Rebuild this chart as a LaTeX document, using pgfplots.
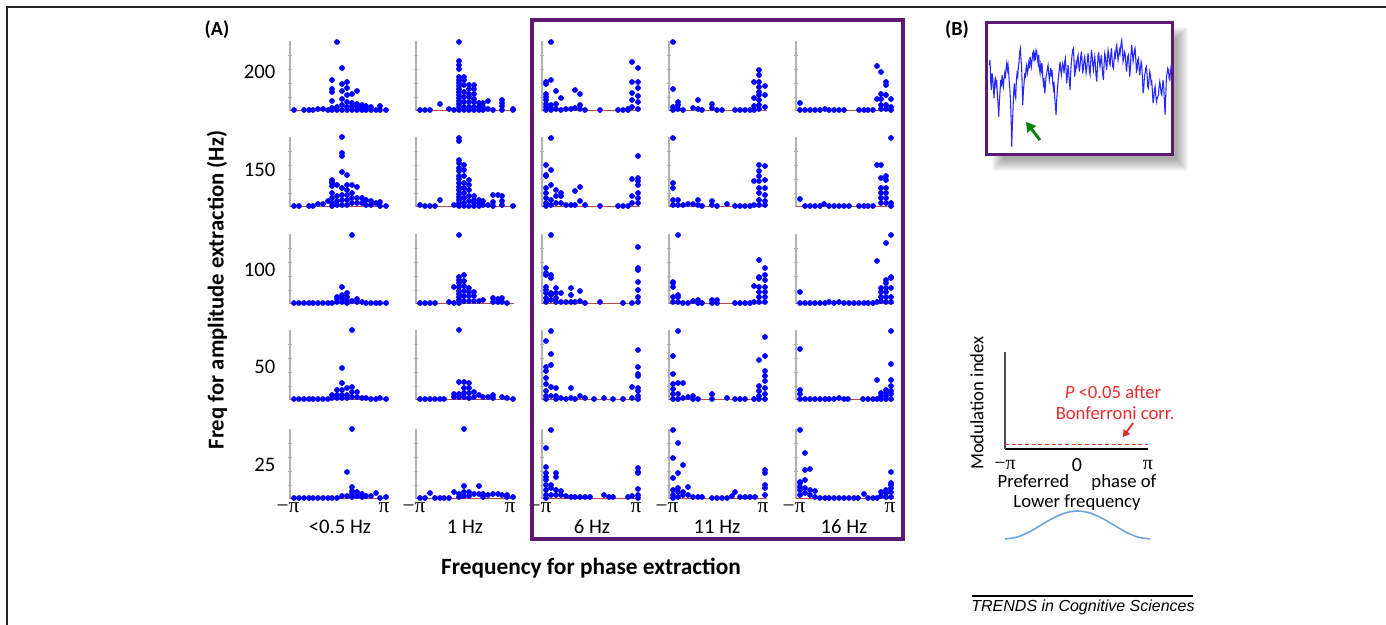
\documentclass[border=0pt]{standalone}
\usepackage{fontspec}
\setmainfont{Carlito}
\newfontfamily\serifpi{Liberation Serif}
\newfontfamily\trendsfont{Liberation Sans}
\usepackage{pgfplots}
\pgfplotsset{compat=1.18}
\usetikzlibrary{arrows.meta}
\definecolor{boxpurple}{RGB}{95,25,115}
\definecolor{thr}{RGB}{190,75,65}
\definecolor{cosblue}{RGB}{110,165,220}
\definecolor{annred}{RGB}{230,45,45}
\pgfplotsset{
  panel/.style={anchor=south west, scale only axis, width=75pt, height=52.5pt,
    xmin=0, xmax=100, ymin=0, ymax=70, clip=false,
    axis x line=none, axis y line=left, axis line style={-},
    y axis line style={gray!60, line width=0.8pt},
    ytick={14,28,42,56}, yticklabels={}, ytick style={gray!60, line width=0.5pt},
    major tick length=2.5pt, xtick=\empty},
  dots/.style={only marks, mark=*, mark size=1.9pt, color=blue, mark options={fill=blue, draw=blue}},
}
\newcommand{\panel}[3]{%
\begin{axis}[panel, at={({#1*0.75pt},{#2*0.75pt})}]
\addplot[thr, line width=1.3pt] coordinates {(0,0.4)(98,0.4)};
\addplot[dots] coordinates {#3};
\end{axis}}
\begin{document}
\begin{tikzpicture}
\begin{scope}[x=0.75pt, y=0.75pt]
\useasboundingbox (0,0) rectangle (1386,625);
\draw[line width=1.2pt, black!85] (7,0) -- (7,618) -- (1386,618);
\foreach \i in {0,...,11}{
  \fill[black, opacity=0.03] ({992+\i},{454+\i}) rectangle ({1188-\i},{598-\i});
}
\end{scope}

% ---------- row 1 (200) ----------
\panel{290}{514}{(4,1)(14,1)(19,1)(23,1)(28,2)(33,2)(38,1)(42,1)(47,1)(52,1)(57,1)(62,1)(67,1)(72,1)(76,1)(81,1)(86,1)(90,1)(96,1)
(42,31)(42,22)(42,19)(42,10)(42,3)(47,69)(47,4)(52,43)(52,27)(52,20)(52,12)(52,6)
(57,29)(57,23)(57,16)(57,9)(57,4)(62,17)(62,8)(62,5)(67,20)(67,7)(67,4)(72,6)(72,3)(76,5)(76,2)(81,4)(90,5)}
\panel{416}{514}{(4,1)(9,1)(14,1)(24,7)(33,2)(38,1)
(43,69)(43,50)(43,46)(43,42)(43,34)(43,31)(43,28)(43,25)(43,22)(43,19)(43,16)(43,13)(43,10)(43,7)(43,4)(43,1)
(48,34)(48,31)(48,26)(48,19)(48,14)(48,9)(48,4)(48,1)(53,26)(53,22)(53,17)(53,14)(53,9)(53,4)(53,1)
(58,26)(58,22)(58,17)(58,12)(58,9)(58,4)(58,1)(63,8)(63,4)(63,1)(67,8)(67,4)(67,1)(72,10)(72,2)(77,1)
(86,11)(86,8)(86,5)(86,1)(97,2)(97,1)}
\panel{542}{514}{(4,29)(4,27)(4,17)(4,14)(4,11)(4,7)(4,4)(4,1)(9,69)(9,31)(9,6)(9,3)(9,1)
(14,20)(14,7)(14,2)(19,13)(19,1)(24,2)(29,2)(33,21)(33,3)(38,17)(38,6)(38,2)(43,1)(58,1)(76,1)(81,1)(86,2)(86,1)
(90,49)(90,29)(90,18)(90,11)(90,4)(96,43)(96,29)(96,23)(96,15)(96,9)(96,2)}
\panel{669}{514}{(4,69)(4,22)(4,4)(4,1)(9,9)(9,6)(9,2)(14,1)(24,3)(29,11)(29,2)(33,1)(43,7)(43,3)(48,1)(53,1)(66,1)(71,1)(76,1)(81,1)
(85,29)(85,13)(85,5)(85,1)(90,41)(90,36)(90,29)(90,24)(90,19)(90,16)(90,11)(90,6)(90,2)(96,25)(96,16)(96,4)}
\panel{796}{514}{(4,8)(4,1)(9,1)(14,1)(19,1)(24,1)(29,2)(33,1)(38,1)(43,1)(48,1)(63,1)(68,1)(72,1)(77,1)
(81,45)(81,12)(85,39)(85,17)(85,12)(85,6)(85,2)(90,29)(90,26)(90,16)(90,6)(90,2)(95,12)(95,4)(95,1)}

% ---------- row 2 (150) ----------
\panel{290}{418}{(4,1)(9,1)(19,1)(23,1)(28,3)(33,3)(38,6)
(42,27)(42,25)(42,24)(42,21)(42,14)(42,9)(42,4)(42,1)(47,22)(47,11)(47,6)(47,2)
(52,70)(52,54)(52,51)(52,35)(52,19)(52,12)(52,7)(52,2)(57,32)(57,22)(57,17)(57,12)(57,7)(57,2)
(62,22)(62,14)(62,9)(62,4)(67,20)(67,9)(67,4)(72,9)(72,4)(76,7)(76,2)(81,6)(81,2)(86,4)(90,5)(90,1)(96,1)}
\panel{416}{418}{(4,2)(9,1)(14,1)(19,1)(24,7)(38,2)
(43,69)(43,66)(43,47)(43,44)(43,39)(43,36)(43,31)(43,28)(43,24)(43,20)(43,17)(43,13)(43,10)(43,7)(43,4)(43,1)
(48,42)(48,37)(48,31)(48,24)(48,19)(48,14)(48,9)(48,4)(48,1)(53,27)(53,22)(53,17)(53,11)(53,6)(53,1)
(58,11)(58,7)(58,4)(58,1)(63,7)(63,4)(63,1)(67,6)(67,2)(72,2)(77,12)(77,5)(77,1)(82,12)(86,11)(86,6)(86,2)(97,1)}
\panel{542}{418}{(4,42)(4,32)(4,31)(4,19)(4,14)(4,9)(4,4)(4,1)(9,69)(9,37)(9,22)(9,7)(9,2)
(14,17)(14,11)(14,4)(19,14)(19,11)(19,4)(24,2)(29,2)(33,16)(33,2)(38,20)(38,6)(43,2)(58,1)(76,1)(81,1)(86,1)
(90,28)(90,11)(90,4)(96,51)(96,29)(96,26)(96,22)(96,14)(96,9)(96,4)}
\panel{669}{418}{(4,69)(4,24)(4,19)(4,7)(4,2)(9,7)(9,2)(14,2)(19,3)(24,3)(29,7)(29,2)(33,1)(43,6)(43,2)(48,1)(58,3)(66,1)(71,1)(76,1)(81,1)
(85,26)(85,2)(90,42)(90,36)(90,31)(90,26)(90,19)(90,14)(90,7)(90,2)(96,41)(96,27)(96,19)(96,12)(96,6)(96,2)}
\panel{796}{418}{(4,8)(9,1)(14,1)(19,1)(24,1)(28,3)(33,1)(38,1)(43,1)(48,1)(53,1)(63,1)(68,1)(72,1)(77,1)
(81,42)(85,42)(85,29)(85,19)(85,14)(85,9)(85,4)(90,31)(90,27)(90,19)(90,14)(90,9)(90,4)(95,69)(95,4)(95,1)}

% ---------- row 3 (100) ----------
\panel{290}{321}{(4,1)(9,1)(14,1)(19,1)(23,1)(28,1)(33,1)(38,1)(42,1)
(47,7)(47,5)(47,2)(52,17)(52,9)(52,6)(52,2)(57,11)(57,7)(57,4)(57,1)(62,69)(62,3)
(67,5)(67,2)(72,2)(76,1)(81,1)(86,1)(90,1)(96,1)}
\panel{416}{321}{(4,1)(9,1)(14,1)(19,1)(33,2)(38,1)(38,17)
(43,69)(43,27)(43,24)(43,21)(43,17)(43,13)(43,10)(43,7)(43,4)(43,1)
(48,29)(48,23)(48,18)(48,13)(48,8)(48,3)(53,16)(53,12)(53,8)(53,3)(58,12)(58,8)(58,3)
(63,3)(67,4)(77,6)(77,2)(82,5)(82,2)(86,6)(86,2)(91,1)}
\panel{542}{321}{(4,36)(4,31)(4,29)(4,17)(4,14)(4,11)(4,6)(4,2)(9,69)(9,29)(9,26)(9,11)(9,9)(9,4)
(14,16)(14,11)(14,6)(14,2)(19,11)(19,2)(24,2)(29,16)(29,9)(29,2)(33,2)(38,13)(38,3)(43,1)(58,2)(81,1)(90,1)
(96,57)(96,36)(96,34)(96,22)(96,14)(96,7)(96,2)}
\panel{669}{321}{(4,22)(4,21)(4,17)(4,7)(4,2)(9,69)(9,9)(9,7)(9,2)(14,1)(19,1)(24,3)(29,4)(29,1)(33,1)(43,4)(43,1)(48,4)(48,1)(66,1)(71,1)(76,1)(81,1)
(85,18)(85,2)(90,44)(90,27)(90,26)(90,17)(90,12)(90,7)(90,2)(96,36)(96,29)(96,24)(96,17)(96,12)(96,7)(96,2)}
\panel{796}{321}{(4,12)(4,1)(9,1)(14,1)(19,1)(24,1)(29,1)(33,2)(38,1)(43,2)(48,1)(53,1)(58,1)(63,1)(68,1)(72,1)(77,1)
(81,43)(81,2)(85,16)(85,12)(85,7)(85,3)(90,61)(90,24)(90,21)(90,16)(90,12)(90,7)(90,2)
(95,69)(95,27)(95,26)(95,16)(95,7)(95,2)}

% ---------- row 4 (50) ----------
\panel{290}{225}{(4,1)(9,1)(14,1)(19,1)(23,1)(28,1)(33,1)(38,1)(42,5)(42,2)
(47,10)(47,5)(47,2)(52,32)(52,17)(52,10)(52,5)(52,2)(57,12)(57,5)(57,2)
(62,70)(62,13)(62,8)(62,3)(67,8)(67,3)(72,2)(76,2)(81,1)(86,1)(90,2)(96,1)}
\panel{416}{225}{(4,1)(9,1)(14,1)(19,1)(24,1)(28,1)(38,6)(38,3)
(43,70)(43,18)(43,6)(43,3)(48,18)(48,12)(48,7)(48,3)(53,17)(53,12)(53,7)(53,2)
(58,8)(58,3)(63,5)(67,3)(72,3)(77,5)(77,2)(86,3)(91,2)(97,1)}
\panel{542}{225}{(4,59)(4,33)(4,29)(4,22)(4,16)(4,9)(4,4)(4,1)(9,69)(9,46)(9,35)(9,13)(9,4)
(14,12)(14,4)(14,1)(19,2)(24,1)(29,12)(29,2)(33,1)(38,4)(43,2)(52,1)(62,2)(71,1)(81,1)
(90,13)(90,2)(96,50)(96,33)(96,26)(96,24)(96,12)(96,9)(96,4)(96,1)}
\panel{669}{225}{(4,44)(4,26)(4,16)(4,11)(4,6)(4,1)(9,69)(9,17)(9,6)(9,1)(14,17)(14,2)(19,3)(24,4)(24,1)(29,1)(43,6)(43,1)(58,2)(66,1)(71,1)(76,1)(85,1)
(90,40)(90,14)(90,9)(90,4)(90,1)(96,63)(96,44)(96,29)(96,24)(96,19)(96,12)(96,6)(96,1)}
\panel{796}{225}{(4,51)(4,10)(4,6)(4,1)(9,1)(14,1)(19,1)(24,1)(29,1)(33,1)(38,1)(43,2)(48,1)(52,1)(67,1)(72,1)(77,1)
(81,20)(81,1)(85,7)(85,4)(85,1)(90,10)(90,7)(90,4)(90,1)(95,69)(95,36)(95,20)(95,14)(95,9)(95,6)(95,1)}

% ---------- row 5 (25) ----------
\panel{290}{126}{(4,1)(9,1)(14,1)(19,1)(23,1)(28,1)(33,1)(38,1)(42,1)(47,1)(52,3)
(57,27)(57,3)(62,70)(62,12)(62,8)(62,5)(62,2)
(67,7)(67,3)(72,5)(72,2)(76,3)(81,3)(86,6)(90,1)(96,2)}
\panel{416}{126}{(4,1)(9,1)(14,6)(19,1)(24,1)(28,1)(33,1)(38,7)(43,5)(43,2)
(48,70)(48,13)(48,7)(48,3)(53,7)(53,3)(58,5)(63,13)(63,5)(67,5)(67,2)(72,4)(77,5)(82,5)(86,4)(91,4)(91,2)(97,2)}
\panel{542}{126}{(4,51)(4,32)(4,26)(4,22)(4,19)(4,14)(4,9)(4,4)(4,1)(9,69)(9,14)(9,11)(9,4)
(14,26)(14,22)(14,9)(14,4)(19,8)(19,4)(24,3)(29,2)(33,2)(38,2)(43,2)(48,2)(62,4)(67,2)(71,2)(86,2)(90,3)
(96,31)(96,27)(96,26)(96,10)(96,4)(96,1)}
\panel{669}{126}{(4,69)(4,41)(4,21)(4,9)(4,4)(4,1)(9,56)(9,26)(9,11)(9,7)(9,2)
(14,34)(14,7)(14,4)(19,12)(19,4)(24,2)(29,2)(33,2)(43,1)(48,1)(53,1)(58,1)(63,3)(66,7)(71,2)(76,2)(81,2)(86,2)
(96,29)(96,26)(96,14)(96,11)(96,4)}
\panel{796}{126}{(4,69)(4,17)(4,16)(4,12)(4,9)(4,4)(9,46)(9,29)(9,19)(9,11)(9,6)
(14,30)(14,9)(14,4)(19,8)(19,2)(24,1)(29,1)(33,1)(38,1)(43,1)(48,1)(53,1)(58,1)(62,1)(68,5)(72,1)(77,1)(81,1)
(85,7)(85,3)(90,9)(90,6)(90,2)(95,27)(95,16)(95,14)(95,11)(95,7)(95,2)}

% ---------- panel B trace ----------
\begin{axis}[anchor=south west, at={({986.7*0.75pt},{470.7*0.75pt})}, scale only axis, width=139.3pt, height=99pt,
  xmin=140, xmax=697, ymin=22, ymax=418, y dir=reverse, ticks=none,
  axis line style={boxpurple, line width=2.4pt}, axis background/.style={fill=white}]
\addplot[blue!85!white, line width=0.8pt] coordinates {(148,150)(150,135)(152,200)(154,225)(156,175)(158,190)(160,215)(162,250)(164,205)(166,185)(168,210)(170,195)(172,240)(174,265)(176,305)(178,260)(180,230)(182,195)(184,215)(186,180)(188,200)(190,215)(192,190)(194,175)(196,190)(198,160)(200,145)(202,165)(204,150)(206,175)(208,205)(210,230)(212,275)(214,340)(215,395)(217,330)(219,280)(221,230)(223,205)(225,240)(227,250)(229,195)(231,175)(233,185)(235,155)(237,140)(239,110)(241,100)(243,135)(245,165)(247,230)(248,270)(250,230)(252,205)(254,175)(256,190)(258,160)(260,150)(262,175)(264,165)(266,145)(268,160)(270,125)(272,140)(274,155)(276,135)(278,115)(280,110)(282,140)(284,120)(286,135)(288,105)(290,110)(292,130)(294,145)(296,120)(298,160)(300,175)(302,150)(304,165)(306,145)(308,185)(310,205)(312,190)(314,235)(316,215)(318,185)(320,175)(322,160)(324,150)(326,175)(328,195)(330,180)(332,160)(334,185)(336,165)(338,205)(340,220)(342,200)(344,250)(346,270)(348,300)(350,255)(352,225)(354,200)(356,180)(358,160)(360,140)(362,165)(364,180)(366,160)(368,145)(370,155)(372,175)(374,140)(376,130)(378,165)(380,205)(382,180)(384,150)(386,175)(388,200)(390,225)(392,170)(394,140)(396,120)(398,105)(400,100)(402,140)(404,185)(406,165)(408,145)(410,155)(412,130)(414,120)(416,150)(418,170)(420,150)(422,125)(424,110)(426,140)(428,175)(430,160)(432,135)(434,125)(436,150)(438,175)(440,160)(442,135)(444,115)(446,140)(448,170)(450,180)(452,140)(454,105)(456,120)(458,150)(460,165)(462,140)(464,125)(466,150)(468,185)(470,200)(472,160)(474,120)(476,115)(478,140)(480,155)(482,135)(484,120)(486,150)(488,180)(490,195)(492,150)(494,115)(496,125)(498,150)(500,165)(502,130)(504,105)(506,120)(508,145)(510,150)(512,120)(514,100)(516,130)(518,155)(520,160)(522,135)(524,115)(526,125)(528,100)(530,90)(532,115)(534,135)(536,120)(538,105)(540,115)(542,95)(544,80)(545,75)(547,105)(549,140)(551,130)(553,110)(555,115)(557,140)(559,170)(561,150)(563,125)(565,120)(567,150)(569,185)(571,160)(573,110)(575,90)(577,115)(579,140)(581,125)(583,105)(585,100)(587,130)(589,170)(591,165)(593,135)(595,130)(597,160)(599,180)(601,160)(603,140)(605,150)(607,190)(609,235)(611,220)(613,185)(615,175)(617,160)(619,155)(621,180)(623,215)(625,220)(627,190)(629,170)(631,180)(633,205)(635,200)(637,230)(639,265)(641,250)(643,225)(645,215)(647,240)(649,260)(651,250)(653,245)(655,240)(657,215)(659,200)(661,215)(663,235)(665,240)(667,215)(669,195)(671,220)(673,260)(675,300)(677,240)(679,185)(681,175)(683,160)(685,165)(687,190)(689,195)(691,170)(693,155)(695,165)};
\end{axis}

% ---------- modulation index schematic ----------
\begin{axis}[anchor=south west, at={({1005*0.75pt},{176*0.75pt})}, scale only axis, width=107.25pt, height=72.75pt,
  xmin=-3.1416, xmax=3.1416, ymin=0, ymax=1, axis x line=bottom, axis y line=left,
  axis line style={-}, x axis line style={black, line width=1.4pt}, y axis line style={black!70, line width=1pt},
  xtick=\empty, ytick=\empty, clip=false]
\addplot[annred!80!orange, densely dashed, line width=0.6pt] coordinates {(-3.1416,0.05)(3.1416,0.05)};
\end{axis}
\begin{axis}[anchor=south west, at={({1005*0.75pt},{86*0.75pt})}, scale only axis, width=108.75pt, height=21pt,
  xmin=-3.1416, xmax=3.1416, ymin=0, ymax=1, hide axis, clip=false]
\addplot[smooth, cosblue, line width=1.2pt] coordinates {(-3.14,0)(-2.62,0.067)(-2.09,0.25)(-1.57,0.5)(-1.05,0.75)(-0.52,0.933)(0,1)(0.52,0.933)(1.05,0.75)(1.57,0.5)(2.09,0.25)(2.62,0.067)(3.14,0)};
\end{axis}

\begin{scope}[x=0.75pt, y=0.75pt]
% ---------- labels panel A ----------
\node[font=\fontsize{15}{18}\selectfont\bfseries] at (217,595) {(A)};
\begin{scope}[every node/.style={font=\fontsize{15.5}{18}\selectfont, anchor=east}]
\node at (280,553) {200};
\node at (280,455) {150};
\node at (280,355) {100};
\node at (280,258) {50};
\node at (280,160) {25};
\end{scope}
\node[rotate=90, font=\fontsize{17}{20}\selectfont\bfseries] at (217,335) {Freq for amplitude extraction (Hz)};
\node[font=\fontsize{17.5}{20}\selectfont\bfseries] at (591,57) {Frequency for phase extraction};
\begin{scope}[every node/.style={font=\fontsize{15.5}{18}\selectfont}]
\node at (340,98) {<0.5 Hz};
\node at (465,98) {1 Hz};
\node at (592,98) {6 Hz};
\node at (717,98) {11 Hz};
\node at (844,98) {16 Hz};
\end{scope}
\begin{scope}[every node/.style={font=\fontsize{16}{18}\selectfont\serifpi}]
\foreach \c in {290,416,542,669,796}{
  \node at ({\c-2},117) {−π};
  \node at ({\c+94},117) {π};
}
\end{scope}
\draw[boxpurple, line width=2.8pt] (532,86) rectangle (903,605);

% ---------- panel B ----------
\node[font=\fontsize{15}{18}\selectfont\bfseries] at (957,595) {(B)};
\draw[-{Triangle[length=7pt,width=8pt]}, line width=2.2pt, green!50!black] (1040,485) -- (1026,503);

% ---------- schematic labels ----------
\node[rotate=90, font=\fontsize{14}{16}\selectfont] at (977,222) {Modulation index};
\node[font=\fontsize{14}{16}\selectfont, text=annred] at (1113,233) {\itshape P\upshape{} <0.05 after};
\node[font=\fontsize{14}{16}\selectfont, text=annred] at (1115,212) {Bonferroni corr.};
\draw[-{Triangle[length=5pt,width=6pt]}, line width=1.4pt, annred] (1133,202) -- (1123,188);
\node[font=\fontsize{15}{18}\selectfont\serifpi] at (1005,160) {−π};
\node[font=\fontsize{15}{18}\selectfont] at (1077,160) {0};
\node[font=\fontsize{15}{18}\selectfont\serifpi] at (1148,160) {π};
\node[font=\fontsize{14}{16}\selectfont] at (1077,142) {Preferred\hspace{1.2em}phase of};
\node[font=\fontsize{14}{16}\selectfont] at (1077,122) {Lower frequency};

% ---------- footer ----------
\draw[line width=0.8pt] (972,29) -- (1193,29);
\node[font=\fontsize{12}{14}\selectfont\trendsfont\itshape] at (1083,18) {TRENDS in Cognitive Sciences};
\end{scope}
\end{tikzpicture}
\end{document}
